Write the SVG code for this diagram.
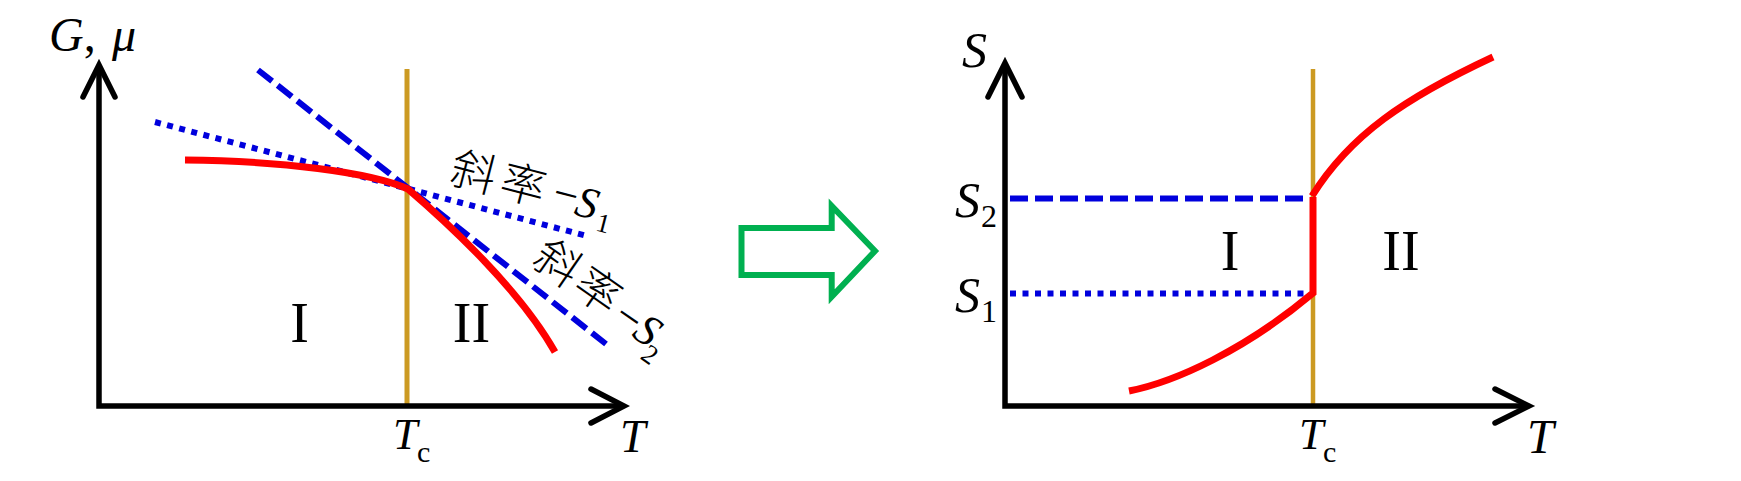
<svg xmlns="http://www.w3.org/2000/svg" width="1741" height="481" viewBox="0 0 1741 481">
<style>
.axis{fill:none;stroke:#000;stroke-width:5.5;stroke-linejoin:miter;stroke-linecap:butt}
.head{fill:none;stroke:#000;stroke-width:5.5;stroke-linejoin:miter;stroke-linecap:round}
.tc{stroke:#CC9A22;stroke-width:5}
.red{fill:none;stroke:#FF0000;stroke-width:7;stroke-linejoin:miter}
.dash{stroke:#0000DD;stroke-width:6;stroke-dasharray:18 7}
.dot{stroke:#0000DD;stroke-width:6;stroke-dasharray:6 6.5}
.t{font-family:"Liberation Serif","Times New Roman",serif;fill:#000}
.i{font-style:italic}
.cjk{font-family:"Noto Sans CJK SC","Liberation Serif",sans-serif;fill:#000;font-weight:300}
</style>
<rect width="1741" height="481" fill="#fff"/>
<g id="left-graph">
  <line class="tc" x1="407" y1="69" x2="407" y2="406"/>
  <path class="axis" d="M99,65 L99,406 L624,406"/>
  <polyline class="head" points="83,97 99,65 115,97"/>
  <polyline class="head" points="591,389 624,406 591,423"/>
  <line class="dot" x1="155" y1="122" x2="587" y2="236"/>
  <line class="dash" x1="258" y1="70" x2="606" y2="344"/>
  <path class="red" d="M185,160 C280,161 370,172 408,189 C450,225 520,290 555,352"/>
  <text class="t" x="49" y="51" font-size="48"><tspan class="i">G</tspan>,</text>
  <text class="t i" x="112" y="51" font-size="48">μ</text>
  <text class="t i" x="393" y="449" font-size="44">T</text>
  <text class="t" x="417" y="462" font-size="30">c</text>
  <text class="t i" x="620" y="452" font-size="46">T</text>
  <text class="t" x="299.5" y="342" font-size="56" text-anchor="middle">I</text>
  <text class="t" x="471.5" y="342" font-size="56" text-anchor="middle">II</text>
  <g id="label-s1" transform="translate(448,182) rotate(14.5)">
    <text class="cjk" x="0" y="0" font-size="45">斜</text>
    <text class="cjk" x="51" y="0" font-size="45">率</text>
    <text class="t" x="105" y="-3" font-size="44">−</text>
    <text class="t i" x="129" y="0" font-size="44">S</text>
    <text class="t" x="154" y="10" font-size="27">1</text>
  </g>
  <g id="label-s2" transform="translate(530,263) rotate(35)">
    <text class="cjk" x="0" y="0" font-size="45">斜</text>
    <text class="cjk" x="49" y="0" font-size="45">率</text>
    <text class="t" x="100" y="2" font-size="44">−</text>
    <text class="t i" x="124" y="2" font-size="44">S</text>
    <text class="t" x="144" y="15" font-size="27">2</text>
  </g>
</g>
<g id="arrow">
  <polygon points="741.5,228 831.7,228 831.7,206 875,251 831.7,296.7 831.7,275 741.5,275" fill="none" stroke="#00B050" stroke-width="6" stroke-linejoin="miter"/>
</g>
<g id="right-graph">
  <line class="tc" x1="1313" y1="69" x2="1313" y2="406" style="stroke-width:4.5"/>
  <path class="axis" d="M1005,63 L1005,406 L1529,406"/>
  <polyline class="head" points="988,97 1005,63 1022,97"/>
  <polyline class="head" points="1495,389 1529,406 1495,423"/>
  <line class="dash" x1="1010" y1="198.5" x2="1305" y2="198.5"/>
  <line class="dot" x1="1010" y1="293.5" x2="1305" y2="293.5"/>
  <path class="red" d="M1129,391 C1175,382 1245,350 1313,293 L1313,197"/>
  <path class="red" d="M1312,196 C1350,135 1405,98 1493,57"/>
  <text class="t i" x="962" y="67" font-size="50">S</text>
  <text class="t i" x="955" y="217" font-size="50">S</text>
  <text class="t" x="981" y="227" font-size="32">2</text>
  <text class="t i" x="955" y="312" font-size="50">S</text>
  <text class="t" x="981" y="322" font-size="32">1</text>
  <text class="t i" x="1299" y="449" font-size="44">T</text>
  <text class="t" x="1323" y="462" font-size="30">c</text>
  <text class="t i" x="1527" y="453" font-size="48">T</text>
  <text class="t" x="1230" y="270" font-size="56" text-anchor="middle">I</text>
  <text class="t" x="1401" y="270" font-size="56" text-anchor="middle">II</text>
</g>
</svg>
